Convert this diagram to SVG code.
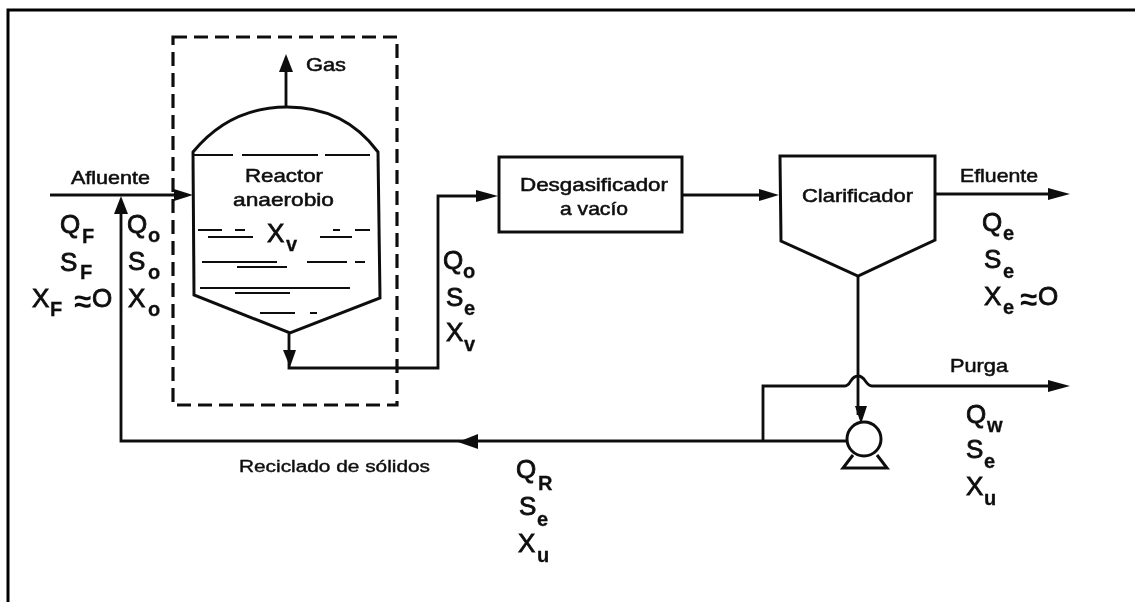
<svg xmlns="http://www.w3.org/2000/svg" width="1135" height="602" viewBox="0 0 1135 602">
<style>
text{font-family:"Liberation Sans",Arial,sans-serif;fill:#111}
.l{font-size:18.5px;stroke:#111;stroke-width:.55}
.m{font-size:26px;stroke:#111;stroke-width:.85}
.s{font-size:20px;font-weight:bold;stroke:#111;stroke-width:.3}
.e{font-size:31px;font-weight:bold}
.w{fill:none;stroke:#111;stroke-width:3}
.t{fill:none;stroke:#111;stroke-width:2.2}
.c{fill:none;stroke:#111;stroke-width:2.8}
.h{fill:#111;stroke:none}
</style>
<defs>
<filter id="soft" x="-2%" y="-2%" width="104%" height="104%"><feGaussianBlur stdDeviation="0.5"/></filter>
</defs>
<rect width="1135" height="602" fill="#fff"/>
<path d="M1135 10H8V602" fill="none" stroke="#000" stroke-width="3"/>
<g filter="url(#soft)">
<g id="connectors">
<path class="c" d="M50 195H180"/><path class="h" d="M174 189L193 195L174 201Z"/>
<path class="c" d="M286 107V68"/><path class="h" d="M286 54L293 72H279Z"/>
<path class="c" d="M289 333V368H438V196H485"/>
<path class="h" d="M283 350H296L290 367Z"/><path class="h" d="M476 190L498 196L476 202Z"/>
<path class="c" d="M683 195H770"/><path class="h" d="M759 189L779 195L759 201Z"/>
<path class="c" d="M935 194H1058"/><path class="h" d="M1048 188L1070 194L1048 200Z"/>
<path class="c" d="M858 276V415"/><path class="h" d="M855 406H867L861 424Z"/>
<path class="c" d="M763 441V386H845C851 386 850 376 858 376C866 376 865 386 872 386H1058"/><path class="h" d="M1048 380L1070 386L1048 392Z"/>
<path class="c" d="M848 441H121V205"/><path class="h" d="M121 196L128 214H114Z"/><path class="h" d="M478 434V449L458 442Z"/>
</g>
<g id="reactor-boundary"><rect x="173" y="37" width="224" height="368" fill="none" stroke="#111" stroke-width="3.2" stroke-dasharray="14 7"/></g>
<g id="reactor">
<path class="w" d="M193 152Q230 107 287 107Q345 107 378 152L380 298L290 333L194 295Z"/>
<path class="t" d="M193 155H233M242 155H318M325 155H370M198 230H222M235 230H245M333 230H340M355 230H370M208 237H253M320 237H352M202 262H277M307 262H347M355 262H365M237 267H287M200 288H350M235 293H290M260 313H295M310 313H317"/>
<text class="l" x="245" y="182" textLength="78" lengthAdjust="spacingAndGlyphs">Reactor</text>
<text class="l" x="233" y="206" textLength="101" lengthAdjust="spacingAndGlyphs">anaerobio</text>
<text class="m" x="267" y="242">X</text><text class="s" x="286" y="251">v</text>
</g>
<g id="desgasificador">
<rect class="w" x="499" y="157" width="183" height="75" fill="none"/>
<text class="l" x="520" y="191" textLength="148" lengthAdjust="spacingAndGlyphs">Desgasificador</text>
<text class="l" x="560" y="215" textLength="68" lengthAdjust="spacingAndGlyphs">a vacío</text>
</g>
<g id="clarificador">
<path class="w" d="M780 156H935V240L858 276L781 241Z"/>
<text class="l" x="802" y="202" textLength="111" lengthAdjust="spacingAndGlyphs">Clarificador</text>
</g>
<g id="bomba">
<circle class="w" cx="864" cy="439" r="17"/>
<path class="w" d="M853 455L843 468H887L877 455"/>
</g>
<g id="labels">
<text class="l" x="71" y="184" textLength="79" lengthAdjust="spacingAndGlyphs">Afluente</text>
<text class="l" x="306" y="71" textLength="40" lengthAdjust="spacingAndGlyphs">Gas</text>
<text class="l" x="960" y="182" textLength="78" lengthAdjust="spacingAndGlyphs">Efluente</text>
<text class="l" x="950" y="372" textLength="58" lengthAdjust="spacingAndGlyphs">Purga</text>
<text class="l" x="239" y="472" textLength="191" lengthAdjust="spacingAndGlyphs" style="font-size:16px;stroke-width:.4">Reciclado de sólidos</text>
<text class="m" x="60" y="233">Q</text><text class="s" x="82" y="243">F</text>
<text class="m" x="60" y="271">S</text><text class="s" x="80" y="279">F</text>
<text class="m" x="32" y="307">X</text><text class="s" x="50" y="316">F</text><text class="e" x="74" y="312">≈</text><text class="m" x="92" y="307">O</text>
<text class="m" x="127" y="233">Q</text><text class="s" x="148" y="242">o</text>
<text class="m" x="128" y="270">S</text><text class="s" x="148" y="279">o</text>
<text class="m" x="128" y="307">X</text><text class="s" x="148" y="316">o</text>
<text class="m" x="443" y="269">Q</text><text class="s" x="463" y="278">o</text>
<text class="m" x="446" y="306">S</text><text class="s" x="464" y="315">e</text>
<text class="m" x="446" y="341">X</text><text class="s" x="464" y="351">v</text>
<text class="m" x="982" y="231">Q</text><text class="s" x="1003" y="240">e</text>
<text class="m" x="984" y="268">S</text><text class="s" x="1003" y="278">e</text>
<text class="m" x="984" y="305">X</text><text class="s" x="1003" y="314">e</text><text class="e" x="1020" y="310">≈</text><text class="m" x="1038" y="305">O</text>
<text class="m" x="966" y="423">Q</text><text class="s" x="987" y="432">w</text>
<text class="m" x="966" y="458">S</text><text class="s" x="984" y="468">e</text>
<text class="m" x="966" y="495">X</text><text class="s" x="984" y="505">u</text>
<text class="m" x="516" y="478">Q</text><text class="s" x="538" y="490">R</text>
<text class="m" x="519" y="515">S</text><text class="s" x="537" y="526">e</text>
<text class="m" x="518" y="552">X</text><text class="s" x="537" y="562">u</text>
</g>
</g>
</svg>
